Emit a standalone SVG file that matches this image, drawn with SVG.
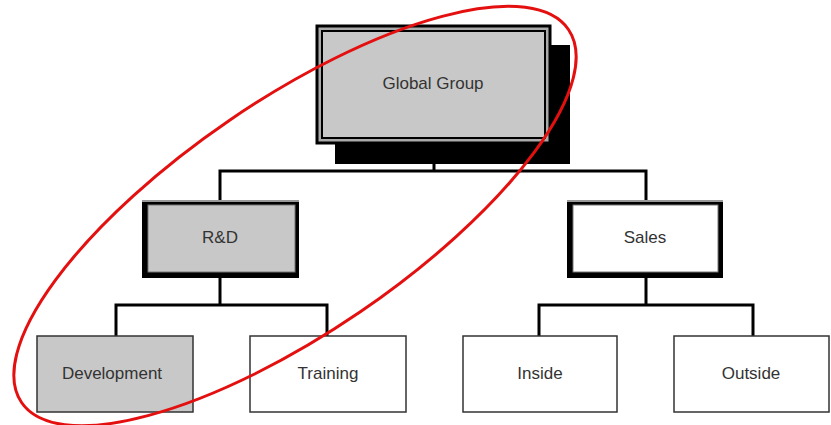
<svg xmlns="http://www.w3.org/2000/svg" width="831" height="425" viewBox="0 0 831 425">
  <style>
    .lbl { font-family: "Liberation Sans", Arial, sans-serif; font-size: 17px; fill: #333; text-anchor: middle; }
    .wire { fill: none; stroke: #000; stroke-width: 3; }
    .frame { fill: #000; }
    .leaf { stroke: #333; stroke-width: 1.5; }
    .grey { fill: #c8c8c8; }
    .white { fill: #fff; }
  </style>

  <!-- connectors -->
  <g id="connectors">
    <path class="wire" d="M434 144 V171 M220 200 V171 H646 V200"/>
    <path class="wire" d="M220 278 V305 M116 336 V305 H327 V336"/>
    <path class="wire" d="M646 278 V305 M539 336 V305 H753 V336"/>
  </g>

  <!-- top node with drop shadow and double border -->
  <g id="global-group">
    <rect x="335" y="45" width="235" height="119" fill="#000"/>
    <rect x="317" y="26" width="233" height="117" fill="#aaa" stroke="#000" stroke-width="3"/>
    <rect x="322" y="31" width="223" height="107" class="grey" stroke="#000" stroke-width="2"/>
    <text class="lbl" x="433" y="89">Global Group</text>
  </g>

  <g id="rnd">
    <rect class="frame" x="142" y="200" width="157" height="78"/>
    <rect x="142" y="200" width="157" height="2" fill="#999"/>
    <rect class="grey" x="148" y="205" width="147" height="67" stroke="#777" stroke-width="1"/>
    <text class="lbl" x="220" y="243">R&amp;D</text>
  </g>

  <g id="sales">
    <rect class="frame" x="567" y="200" width="156" height="78"/>
    <rect x="567" y="200" width="156" height="2" fill="#999"/>
    <rect class="white" x="573" y="205" width="145" height="67" stroke="#777" stroke-width="1"/>
    <text class="lbl" x="645" y="243">Sales</text>
  </g>

  <g id="development">
    <rect class="leaf grey" x="37" y="336" width="156" height="76"/>
    <text class="lbl" x="112" y="379">Development</text>
  </g>

  <g id="training">
    <rect class="leaf white" x="250" y="336" width="156" height="76"/>
    <text class="lbl" x="328" y="379">Training</text>
  </g>

  <g id="inside">
    <rect class="leaf white" x="463" y="336" width="154" height="76"/>
    <text class="lbl" x="540" y="379">Inside</text>
  </g>

  <g id="outside">
    <rect class="leaf white" x="674" y="336" width="155" height="76"/>
    <text class="lbl" x="751" y="379">Outside</text>
  </g>

  <!-- highlight ring around the R&D branch -->
  <ellipse cx="295" cy="216" rx="331" ry="116" transform="rotate(-34.3 295 216)" fill="none" stroke="#e41010" stroke-width="3"/>
</svg>
